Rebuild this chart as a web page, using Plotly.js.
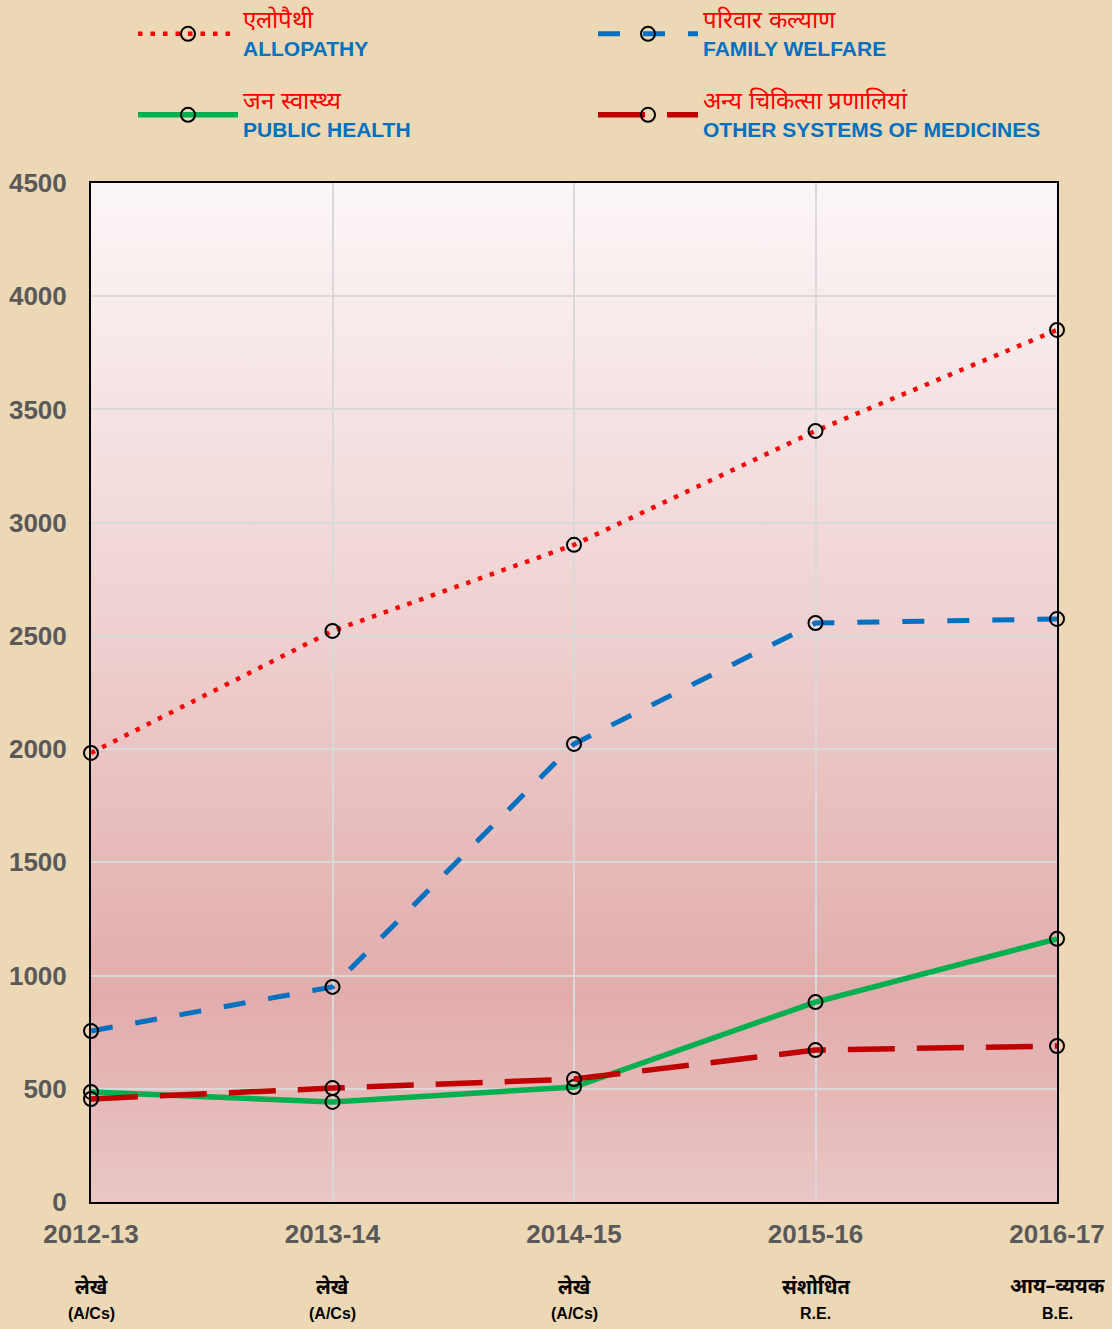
<!DOCTYPE html>
<html>
<head>
<meta charset="utf-8">
<script src="https://cdn.plot.ly/plotly-3.0.1.min.js"></script>
<style>html,body{margin:0;padding:0;background:#EDD8B5;}#chart{width:1112px;height:1329px;}</style>
</head>
<body>
<div id="chart"></div>
<script>
// ---- data ----
const years = ["2012-13", "2013-14", "2014-15", "2015-16", "2016-17"];
const subLabelsHindi = ["लेखे", "लेखे", "लेखे", "संशोधित", "आय–व्ययक"];
const subLabelsEnglish = ["(A/Cs)", "(A/Cs)", "(A/Cs)", "R.E.", "B.E."];
const allopathy = [1983, 2522, 2902, 3405, 3851];
const familyWelfare = [755, 950, 2023, 2557, 2575];
const publicHealth = [486, 442, 508, 883, 1162];
const otherSystems = [455, 503, 543, 671, 689];
const seriesHindi = ["एलोपैथी", "परिवार कल्याण", "जन स्वास्थ्य", "अन्य चिकित्सा प्रणालियां"];
const seriesEnglish = ["ALLOPATHY", "FAMILY WELFARE", "PUBLIC HEALTH", "OTHER SYSTEMS OF MEDICINES"];
const yTicks = [0, 500, 1000, 1500, 2000, 2500, 3000, 3500, 4000, 4500];

const FONT = "'Liberation Sans', Arial, sans-serif";
const HINDI = "'Noto Sans Devanagari', 'Lohit Devanagari', 'FreeSans', 'Mangal', sans-serif";

function legendName(i) {
  return "<span style='color:#FF0000;font-size:24px'>" + seriesHindi[i] +
    "</span><br><b><span style='color:#0070C0'>" + seriesEnglish[i] + "</span></b>";
}

const marker = {symbol: "circle-open", size: 14, color: "#000000", line: {width: 2, color: "#000000"}};

const traces = [
  {x: years, y: allopathy, name: legendName(0), legend: "legend",
   line: {color: "#FF0000", width: 4.5, dash: "4.5px,8px"}},
  {x: years, y: familyWelfare, name: legendName(1), legend: "legend",
   line: {color: "#0070C0", width: 5, dash: "22px,23px"}},
  {x: years, y: publicHealth, name: legendName(2), legend: "legend2",
   line: {color: "#00B050", width: 5.5}},
  {x: years, y: otherSystems, name: legendName(3), legend: "legend2",
   line: {color: "#C00000", width: 5.5, dash: "47px,22px"}}
].map(t => Object.assign(t, {type: "scatter", mode: "lines+markers", marker: marker, cliponaxis: false}));

const svg = "<svg xmlns='http://www.w3.org/2000/svg' width='10' height='100' preserveAspectRatio='none'>" +
  "<defs><linearGradient id='g' x1='0' y1='0' x2='0' y2='1'>" +
  "<stop offset='0' stop-color='#FCF6F7'/><stop offset='0.43' stop-color='#EFD1D1'/>" +
  "<stop offset='0.8' stop-color='#E2ACAC'/><stop offset='1' stop-color='#EAC6C6'/>" +
  "</linearGradient></defs><rect width='10' height='100' fill='url(#g)'/></svg>";
const bgImg = "data:image/svg+xml;charset=utf-8," + encodeURIComponent(svg);

const annotations = [];
years.forEach((yr, i) => {
  annotations.push({x: yr, y: 0, xref: "x", yref: "paper", yanchor: "middle", yshift: -86,
    text: "<b>" + subLabelsHindi[i] + "</b>", showarrow: false,
    font: {family: HINDI, size: 20, color: "#000000"}});
  annotations.push({x: yr, y: 0, xref: "x", yref: "paper", yanchor: "middle", yshift: -111,
    text: "<b>" + subLabelsEnglish[i] + "</b>", showarrow: false,
    font: {family: FONT, size: 16, color: "#000000"}});
});

const legendCommon = {
  orientation: "h", xref: "container", yref: "container", yanchor: "top", xanchor: "left",
  bgcolor: "rgba(0,0,0,0)", entrywidth: 345, entrywidthmode: "pixels",
  font: {family: FONT, size: 21}, itemwidth: 100
};

const layout = {
  width: 1112, height: 1329,
  paper_bgcolor: "#EDD8B5", plot_bgcolor: "rgba(0,0,0,0)",
  margin: {l: 91, r: 55, t: 183, b: 127, autoexpand: false},
  showlegend: true,
  legend: Object.assign({}, legendCommon, {x: 133 / 1112, y: 1}),
  legend2: Object.assign({}, legendCommon, {x: 133 / 1112, y: 1 - 81 / 1329}),
  xaxis: {
    type: "category", range: [0, 4], showgrid: true, gridcolor: "#D9D9D9", gridwidth: 2,
    showline: true, linecolor: "#000000", linewidth: 2, mirror: true, ticks: "",
    ticklabelstandoff: 8, tickfont: {family: FONT, size: 26, color: "#595959", weight: "bold"},
    zeroline: false, fixedrange: true
  },
  yaxis: {
    range: [0, 4500], tickvals: yTicks, ticktext: yTicks.map(String), showgrid: true,
    gridcolor: "#D9D9D9", gridwidth: 2, showline: true, linecolor: "#000000", linewidth: 2,
    mirror: true, ticks: "", ticklabelstandoff: 17, zeroline: false,
    tickfont: {family: FONT, size: 26, color: "#595959", weight: "bold"}, fixedrange: true
  },
  images: [{source: bgImg, xref: "paper", yref: "paper", x: 0, y: 1, sizex: 1, sizey: 1,
    sizing: "stretch", xanchor: "left", yanchor: "top", layer: "below"}],
  annotations: annotations
};

Plotly.newPlot("chart", traces, layout, {displayModeBar: false, staticPlot: true});
</script>
</body>
</html>
